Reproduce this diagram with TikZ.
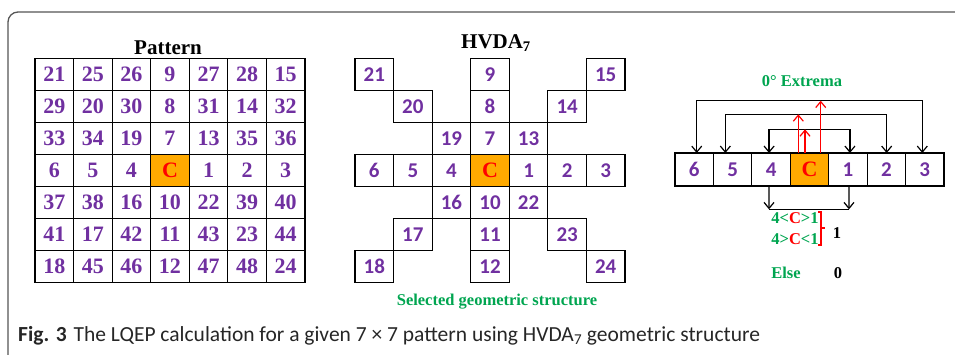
\documentclass[tikz,border=0pt]{standalone}
\usepackage{fontspec}
\setmainfont{Liberation Serif}
\newfontfamily\calibfont{Carlito}
\usetikzlibrary{arrows.meta}
\definecolor{numpurple}{HTML}{7030A0}
\definecolor{corange}{HTML}{FFAA00}
\definecolor{tgreen}{HTML}{00A550}
\definecolor{framegray}{HTML}{555555}
\begin{document}
\begin{tikzpicture}[x=1pt,y=-1pt,
  cell/.style={draw, line width=1.2pt, minimum width=38.57pt, minimum height=32pt, inner sep=0pt, outer sep=0pt},
  pnum/.style={cell, text=numpurple, font=\fontsize{22}{22}\selectfont\bfseries},
  hnum/.style={cell, text=numpurple, font=\calibfont\fontsize{21}{21}\selectfont\bfseries},
  ccell/.style={cell, fill=corange, text=red, font=\fontsize{22}{22}\selectfont\bfseries},
  rcell/.style={minimum width=38.43pt, minimum height=33pt},
  title/.style={font=\fontsize{21}{21}\selectfont\bfseries, text=black, inner sep=0pt},
  gtext/.style={font=\fontsize{16.5}{16.5}\selectfont\bfseries, text=tgreen, inner sep=0pt},
  btext/.style={font=\fontsize{16.5}{16.5}\selectfont\bfseries, text=black, inner sep=0pt},
  arr/.style={line width=1.2pt, -{Straight Barb[length=6pt,width=10pt]}},
  dblarr/.style={line width=1.2pt, {Straight Barb[length=6pt,width=10pt]}-{Straight Barb[length=6pt,width=10pt]}},
  redarr/.style={line width=1.2pt, red, -{Straight Barb[length=6pt,width=10pt]}},
  plain/.style={line width=1.2pt}
]
\useasboundingbox (0,0) rectangle (955,354);
% frame
\draw[framegray, line width=1.3pt, rounded corners=10pt] (8,360) -- (8,12) -- (960,12);

\def\pmat{{21,25,26,9,27,28,15},{29,20,30,8,31,14,32},{33,34,19,7,13,35,36},{6,5,4,C,1,2,3},{37,38,16,10,22,39,40},{41,17,42,11,43,23,44},{18,45,46,12,47,48,24}}

% Pattern grid
\node[title] (ptitle) at (168,48) {Pattern};
\foreach \row [count=\i from 0] in \pmat {
  \foreach \v [count=\j from 0] in \row {
    \ifnum\i\j=33
      \node[ccell] (p-\i-\j) at ({35+(\j+0.5)*38.57},{58.5+(\i+0.5)*32}) {C};
    \else
      \node[pnum] (p-\i-\j) at ({35+(\j+0.5)*38.57},{58.5+(\i+0.5)*32}) {\v};
    \fi
  }
}

% HVDA grid
\node[title] (htitle) at (496,43) {HVDA\textsubscript{7}};
\foreach \row [count=\i from 0] in \pmat {
  \foreach \v [count=\j from 0] in \row {
    \pgfmathtruncatemacro\showcell{(\i==3)||(\j==3)||(\i==\j)||(\i+\j==6)}
    \ifnum\showcell=1
      \ifnum\i\j=33
        \node[ccell] (h-\i-\j) at ({355+(\j+0.5)*38.57},{58.5+(\i+0.5)*32}) {C};
      \else
        \node[hnum] (h-\i-\j) at ({355+(\j+0.5)*38.57},{58.5+(\i+0.5)*32}) {\v};
      \fi
    \fi
  }
}
\node[gtext] (sel) at (497,302) {Selected geometric structure};

% Right row
\node[gtext] (ext) at (802,81) {0\textdegree{} Extrema};
\foreach \v [count=\j from 0] in {6,5,4,C,1,2,3} {
  \ifnum\j=3
    \node[ccell, rcell] (r-\j) at ({675+(\j+0.5)*38.43},169.5) {C};
  \else
    \node[hnum, rcell] (r-\j) at ({675+(\j+0.5)*38.43},169.5) {\v};
  \fi
}
% extrema connectors
\coordinate (outer) at (809,100.7);
\coordinate (middle) at (809,114.3);
\coordinate (inner) at (809,129.3);
\draw[dblarr] ([xshift=2.5pt]r-0.north) |- (outer) -| ([xshift=-2.5pt]r-6.north);
\draw[dblarr] ([xshift=-7.3pt]r-1.north) |- (middle) -| ([xshift=0.3pt]r-5.north);
\draw[dblarr] ([xshift=-2pt]r-2.north) |- (inner) -| ([xshift=2pt]r-4.north);
\draw[redarr] ([xshift=-11.2pt]r-3.north) -- ([xshift=-11.2pt]r-3.north |- middle);
\draw[redarr] ([xshift=-4.5pt]r-3.north) -- ([xshift=-4.5pt]r-3.north |- inner);
\draw[redarr] ([xshift=11.2pt]r-3.north) -- ([xshift=11.2pt]r-3.north |- outer);
% lower bracket
\coordinate (bl) at (769,209.3);
\coordinate (br) at (849,209.3);
\draw[plain] (bl) -- (br);
\draw[arr] ([xshift=-2pt]r-2.south) -- (bl);
\draw[arr] ([xshift=1pt]r-4.south) -- (br);
% conditions
\node[gtext] (c1) at (795,218) {4<\textcolor{red}{C}>1};
\node[gtext] (c2) at (795,239) {4>\textcolor{red}{C}<1};
\coordinate (bt) at (821,212);
\coordinate (bb) at (821,245);
\coordinate (bm) at (821,228);
\draw[red, line width=1.2pt] ([xshift=-3pt]bt) -- (bt) -- (bb) -- ([xshift=-3pt]bb);
\draw[red, line width=1.2pt] (bm) -- ([xshift=4pt]bm);
\node[btext] (one) at (837,233) {1};
\node[gtext] (els) at (786,273) {Else};
\node[btext] (zero) at (838,273) {0};

% caption
\node[anchor=west, inner sep=0pt, font=\calibfont\fontsize{21.5}{21.5}\selectfont, text=black!85] (cap) at (18,336)
  {\textbf{Fig. 3}\hspace{7pt}The LQEP calculation for a given 7 × 7 pattern using HVDA\textsubscript{7} geometric structure};
\end{tikzpicture}
\end{document}
